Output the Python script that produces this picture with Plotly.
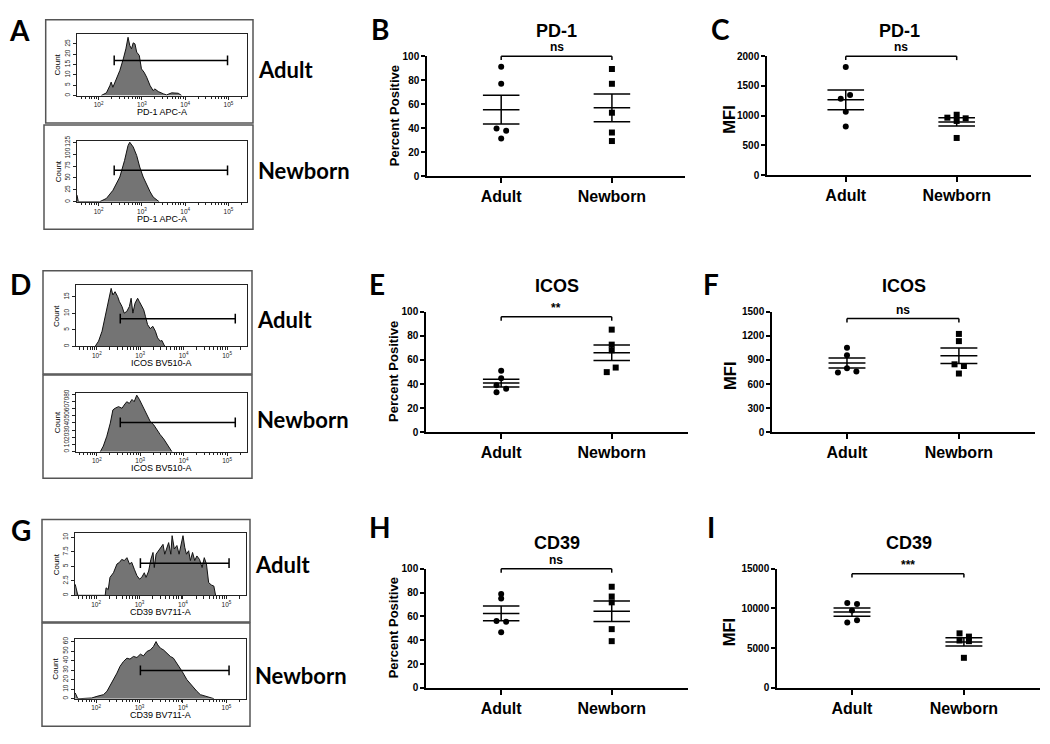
import numpy as np
import plotly.graph_objects as go

W, H = 1050, 744
ARIAL = "Liberation Sans, Arial, sans-serif"
CALIBRI = "Lato, Open Sans, sans-serif"

# ---- flow histograms: x = log10 fluorescence, y = count ----
pd1_adult_x = [2.06, 2.18, 2.26, 2.29, 2.33, 2.41, 2.49, 2.57, 2.63, 2.68, 2.72, 2.76, 2.80, 2.84, 2.88,
               2.94, 2.99, 3.05, 3.11, 3.19, 3.26, 3.30, 3.38, 3.50, 3.57, 3.69, 3.77, 3.84, 3.92]
pd1_adult_y = [0, 1.3, 4.8, 6.5, 4.0, 8.1, 12.1, 17.7, 22.6, 28.2, 24.2, 22.6, 25.5, 25.0, 21.0,
               19.4, 12.9, 11.3, 8.9, 4.8, 2.4, 3.2, 1.9, 0.8, 0.3, 1.3, 1.0, 1.1, 0]
pd1_newborn_x = [1.50, 1.53, 2.02, 2.18, 2.33, 2.49, 2.60, 2.68, 2.72, 2.80, 2.88, 2.95, 3.03, 3.11,
                 3.19, 3.26, 3.34, 3.40]
pd1_newborn_y = [14, 0, 0, 7, 24, 52, 87, 118, 125, 115, 97, 73, 52, 35, 21, 10, 3.5, 0]

icos_adult_x = [1.96, 2.04, 2.12, 2.19, 2.27, 2.33, 2.37, 2.42, 2.48, 2.52, 2.58, 2.63, 2.69, 2.75, 2.79,
                2.83, 2.88, 2.94, 2.98, 3.04, 3.08, 3.12, 3.17, 3.23, 3.29, 3.35, 3.40, 3.46, 3.50, 3.55, 3.58]
icos_adult_y = [0, 1.6, 4.6, 9.1, 13.6, 17.6, 15.6, 16.6, 15.1, 13.6, 12.1, 10.1, 10.6, 12.1, 14.6,
                10.1, 13.1, 14.6, 13.6, 12.1, 11.1, 9.1, 6.6, 5.4, 6.1, 4.6, 2.6, 1.6, 1.8, 0.4, 0]
icos_newborn_x = [2.08, 2.15, 2.23, 2.31, 2.37, 2.42, 2.50, 2.58, 2.63, 2.69, 2.75, 2.81, 2.86, 2.92,
                  2.98, 3.04, 3.09, 3.15, 3.23, 3.31, 3.38, 3.46, 3.54, 3.62, 3.69, 3.73]
icos_newborn_y = [0, 7.8, 21.5, 39.7, 58, 60.3, 62.6, 60.3, 64.8, 69.4, 67.1, 72.6, 69.4, 78.5,
                  72.6, 64.8, 58, 51.1, 42, 37.4, 30.6, 23.7, 17.8, 10, 3.2, 0]

cd39_adult_x = [1.52, 1.58, 2.21, 2.23, 2.28, 2.32, 2.40, 2.48, 2.54, 2.59, 2.65, 2.71, 2.77, 2.82, 2.88,
                2.94, 3.00, 3.05, 3.11, 3.15, 3.21, 3.26, 3.31, 3.34, 3.38, 3.44, 3.48, 3.54, 3.58, 3.63,
                3.67, 3.72, 3.75, 3.80, 3.86, 3.91, 3.95, 4.00, 4.04, 4.08, 4.13, 4.17, 4.22, 4.27, 4.32,
                4.38, 4.44, 4.49, 4.54, 4.59, 4.65, 4.71, 4.75]
cd39_adult_y = [1.9, 0, 0, 1.3, 1.0, 3.1, 3.9, 5.4, 5.7, 6.2, 6.0, 6.5, 5.4, 5.7, 4.5,
                3.4, 2.8, 3.1, 3.9, 3.1, 4.2, 6.2, 7.4, 4.8, 7.1, 7.7, 8.3, 8.8, 7.1, 8.3,
                9.1, 7.1, 10.3, 8.0, 8.6, 7.1, 8.8, 10.3, 8.3, 7.1, 7.7, 6.0, 7.4, 6.0, 6.8,
                6.2, 4.8, 6.5, 5.4, 2.2, 1.8, 1.6, 0]
cd39_newborn_x = [1.52, 1.58, 1.63, 1.90, 2.02, 2.17, 2.25, 2.36, 2.48, 2.55, 2.63, 2.71, 2.78, 2.86,
                  2.94, 3.02, 3.09, 3.17, 3.25, 3.32, 3.38, 3.42, 3.48, 3.55, 3.63, 3.71, 3.78, 3.86,
                  3.98, 4.09, 4.21, 4.32, 4.40, 4.52, 4.59, 4.71]
cd39_newborn_y = [6, 0, 0, 0.7, 2.4, 4.2, 7.7, 16.4, 26.8, 33.8, 39, 42.5, 41.5, 44.3,
                  43.2, 46.7, 44.9, 49.5, 51.2, 54.7, 59.9, 56.4, 53, 51.2, 47.7, 44.3, 42.5, 37.3,
                  28.6, 19.9, 12.9, 7.7, 4.2, 2.4, 1.4, 0]

# positive gates (x from/to, count level)
pd1_gate = [2.36, 4.98]
icos_gate = [2.54, 5.19]
cd39_gate = [3.02, 5.06]
gate_levels = [17, 66, 8.4, 40.6, 5.55, 29.6]

# ---- per-donor values ----
groups = ["Adult", "Newborn"]
pd1_pct_adult = [91.2, 77.0, 39.7, 37.8, 31.5]
pd1_pct_newborn = [89.3, 77.0, 52.9, 36.4, 29.3]
pd1_mfi_adult = [1819, 1346, 1286, 1066, 819]
pd1_mfi_newborn = [1016, 967, 956, 912, 626]
icos_pct_adult = [51.0, 44.7, 39.0, 36.0, 33.2]
icos_pct_newborn = [85.3, 72.8, 68.1, 53.7, 49.9]
icos_mfi_adult = [1054, 960, 797, 744, 756]
icos_mfi_newborn = [1226, 1136, 846, 825, 731]
cd39_pct_adult = [78.9, 75.1, 56.2, 55.6, 46.6]
cd39_pct_newborn = [84.9, 76.7, 71.8, 49.3, 39.2]
cd39_mfi_adult = [10685, 10562, 9740, 8507, 8219]
cd39_mfi_newborn = [6864, 6453, 5959, 5877, 3781]
significance = ["ns", "ns", "**", "ns", "ns", "***"]
bracket_levels = [100, 2000, 96, 1418, 100, 14384]

fig = go.Figure()
n_axes = [0]


def new_axes(area, xr, yr):
    n_axes[0] += 1
    s = "" if n_axes[0] == 1 else str(n_axes[0])
    x0, y0, x1, y1 = area
    fig.update_layout({
        "xaxis" + s: dict(domain=[x0 / W, x1 / W], anchor="y" + s, range=xr,
                          showgrid=False, zeroline=False, fixedrange=True),
        "yaxis" + s: dict(domain=[1 - y1 / H, 1 - y0 / H], anchor="x" + s, range=yr,
                          showgrid=False, zeroline=False, fixedrange=True),
    })
    return s


def text(x, y, s, size, family=ARIAL, bold=True, xanchor="center", **kw):
    fig.add_annotation(x=x / W, y=1 - y / H, xref="paper", yref="paper", text=s,
                       showarrow=False, xanchor=xanchor, yanchor="middle",
                       font=dict(family=family, size=size, color="black",
                                 weight="bold" if bold else "normal"), **kw)


minor_vals = np.log10([m * 10.0 ** k for k in range(1, 6) for m in range(2, 10)])


def histogram(box, area, xr, xs, ys, gate, level, ymax, yticks, xlabel, label, label_y):
    fig.add_shape(type="rect", xref="paper", yref="paper", x0=box[0] / W, x1=box[2] / W,
                  y0=1 - box[3] / H, y1=1 - box[1] / H, line=dict(color="#555555", width=1.5))
    s = new_axes(area, xr, [0, ymax])
    fig.add_trace(go.Scatter(x=xs, y=ys, mode="lines", fill="tozeroy", fillcolor="#747474",
                             line=dict(color="#111111", width=1), xaxis="x" + s, yaxis="y" + s,
                             showlegend=False, hoverinfo="skip"))
    fig.add_trace(go.Scatter(x=gate, y=[level, level], mode="lines+markers",
                             line=dict(color="black", width=1.5),
                             marker=dict(symbol="line-ns-open", size=7, line=dict(width=1.5, color="black")),
                             xaxis="x" + s, yaxis="y" + s, showlegend=False, hoverinfo="skip"))
    tickfont = dict(family=ARIAL, size=6.5, color="#222222")
    fig.update_layout({
        "xaxis" + s: dict(showline=True, mirror=True, linecolor="#222222", linewidth=1,
                          ticks="outside", ticklen=3, tickcolor="#222222", tickfont=tickfont,
                          tickvals=[2, 3, 4, 5],
                          ticktext=["10<sup>2</sup>", "10<sup>3</sup>", "10<sup>4</sup>", "10<sup>5</sup>"],
                          minor=dict(tickvals=list(minor_vals), ticks="outside", ticklen=2.5,
                                     tickcolor="#222222")),
        "yaxis" + s: dict(showline=True, mirror=True, linecolor="#222222", linewidth=1,
                          ticks="outside", ticklen=3, tickcolor="#222222", tickfont=tickfont,
                          tickvals=yticks, tickangle=-90),
    })
    cx = (area[0] + area[2]) / 2
    cy = (area[1] + area[3]) / 2
    text(cx, area[3] + 17, xlabel, 9, bold=False)
    text(area[0] - 19, cy, "Count", 8, bold=False, textangle=-90)
    text(box[2] + 3, label_y, label, 22, family=CALIBRI, xanchor="left")


def dot_panel(area, xr, adult, newborn, jit_a, jit_n, yticks, ytitle, ytitle_x, title, sig, level):
    ymax = yticks[-1]
    s = new_axes(area, xr, [0, ymax])
    xa, ya = "x" + s, "y" + s
    for i, (vals, jit, sym) in enumerate([(adult, jit_a, "circle"), (newborn, jit_n, "square")]):
        c = i + 1
        fig.add_trace(go.Scatter(x=[c + j for j in jit], y=vals, mode="markers",
                                 marker=dict(symbol=sym, size=6, color="black"),
                                 xaxis=xa, yaxis=ya, showlegend=False, cliponaxis=False))
        v = np.array(vals, dtype=float)
        m = v.mean()
        se = v.std(ddof=1) / np.sqrt(len(v))
        hw = 0.165
        fig.add_trace(go.Scatter(
            x=[c - hw, c + hw, None, c - hw, c + hw, None, c - hw, c + hw, None, c, c],
            y=[m, m, None, m + se, m + se, None, m - se, m - se, None, m - se, m + se],
            mode="lines", line=dict(color="black", width=1.5),
            xaxis=xa, yaxis=ya, showlegend=False, hoverinfo="skip"))
    bold = dict(family=ARIAL, color="black", weight="bold")
    fig.update_layout({
        "xaxis" + s: dict(showline=True, linecolor="black", linewidth=1.5, ticks="outside",
                          ticklen=5, tickwidth=1.5, tickcolor="black", tickvals=[1, 2],
                          ticktext=groups, tickfont=dict(size=16, **bold)),
        "yaxis" + s: dict(showline=True, linecolor="black", linewidth=1.5, ticks="outside",
                          ticklen=4, tickwidth=1.5, tickcolor="black", tickvals=yticks,
                          tickformat="d", tickfont=dict(size=10, **bold)),
    })
    # significance bracket
    yref = ("y" if s == "" else "y" + s) + " domain"
    top = level / ymax
    drop = 4 / (area[3] - area[1])
    for x0, x1, y0, y1 in [(1, 2, top, top), (1, 1, top - drop, top), (2, 2, top - drop, top)]:
        fig.add_shape(type="line", xref=xa, yref=yref, x0=x0, x1=x1, y0=y0, y1=y1,
                      line=dict(color="black", width=1.5))
    fig.add_annotation(x=1.5, y=top, xref=xa, yref=yref, text=sig, showarrow=False,
                       xanchor="center", yanchor="bottom", yshift=0, font=dict(size=12, **bold))
    cx = (area[0] + area[2]) / 2
    text(cx, area[1] - 26, title, 18)
    if len(ytitle) > 3:
        text(ytitle_x, (area[1] + area[3]) / 2, ytitle, 13, textangle=-90)
    else:
        text(ytitle_x, (area[1] + area[3]) / 2 + 4, ytitle, 16.5, textangle=-90)


# ---- left column: histograms ----
histogram((45.7, 14, 253, 119), (77, 28, 247, 91), [1.5, 5.43], pd1_adult_x, pd1_adult_y,
          pd1_gate, gate_levels[0], 30, [0, 5, 10, 15, 20, 25], "PD-1 APC-A", "Adult", 65)
histogram((44, 121, 253, 227), (77, 137, 247, 199), [1.5, 5.43], pd1_newborn_x, pd1_newborn_y,
          pd1_gate, gate_levels[1], 128, [0, 25, 50, 75, 100, 125], "PD-1 APC-A", "Newborn", 167)
histogram((43, 269, 252, 374), (76, 284, 247, 346), [1.52, 5.46], icos_adult_x, icos_adult_y,
          icos_gate, gate_levels[2], 18.5, [0, 5, 10, 15], "ICOS BV510-A", "Adult", 319)
histogram((43, 375, 252, 480), (76, 393, 247, 453), [1.52, 5.46], icos_newborn_x, icos_newborn_y,
          icos_gate, gate_levels[3], 82, [0, 10, 20, 30, 40, 50, 60, 70, 80], "ICOS BV510-A", "Newborn", 420)
histogram((42, 522, 250, 626), (75, 536, 246, 599), [1.515, 5.45], cd39_adult_x, cd39_adult_y,
          cd39_gate, gate_levels[4], 10.7, [0, 2.5, 5, 7.5, 10], "CD39 BV711-A", "Adult", 568)
histogram((42, 627, 250, 732), (75, 643, 246, 704), [1.515, 5.45], cd39_newborn_x, cd39_newborn_y,
          cd39_gate, gate_levels[5], 63, [0, 10, 20, 30, 40, 50, 60], "CD39 BV711-A", "Newborn", 680)

# ---- dot plots ----
pct_ticks = [0, 20, 40, 60, 80, 100]
dot_panel((427, 51, 685, 173), [0.33, 2.66], pd1_pct_adult, pd1_pct_newborn,
          [0, 0, -0.042, 0.045, 0], [0, 0, 0, 0, 0], pct_ticks, "Percent Positive", 394,
          "PD-1", significance[0], bracket_levels[0])
dot_panel((767, 51, 1031, 172), [0.29, 2.67], pd1_mfi_adult, pd1_mfi_newborn,
          [0, 0.039, -0.045, 0, 0], [0, -0.084, 0.081, 0, 0], [0, 500, 1000, 1500, 2000], "MFI", 729,
          "PD-1", significance[1], bracket_levels[1])
dot_panel((426, 311, 688, 433), [0.32, 2.69], icos_pct_adult, icos_pct_newborn,
          [0, 0, -0.042, 0.045, -0.042], [0, 0, 0, 0.036, -0.045], pct_ticks, "Percent Positive", 393,
          "ICOS", significance[2], bracket_levels[2])
dot_panel((772, 311, 1035, 433), [0.33, 2.68], icos_mfi_adult, icos_mfi_newborn,
          [0, 0, 0, -0.081, 0.084], [0, 0, -0.039, 0.045, 0], [0, 300, 600, 900, 1200, 1500], "MFI", 730,
          "ICOS", significance[3], bracket_levels[3])
dot_panel((426, 572, 688, 693), [0.32, 2.69], cd39_pct_adult, cd39_pct_newborn,
          [0, 0, -0.042, 0.045, 0], [0, 0, 0, 0, 0], pct_ticks, "Percent Positive", 393,
          "CD39", significance[4], bracket_levels[4])
dot_panel((777, 572, 1040, 693), [0.33, 2.68], cd39_mfi_adult, cd39_mfi_newborn,
          [-0.042, 0.045, 0, 0.045, -0.042], [-0.039, 0.045, -0.039, 0.045, 0],
          [0, 5000, 10000, 15000], "MFI", 729, "CD39", significance[5], bracket_levels[5])

# panel letters
for letter, (lx, ly) in zip("ABCDEFGHI", [(19, 24), (380, 23), (720, 23), (20, 283), (377, 283),
                                           (711, 283), (21, 533), (380, 530), (711, 530)]):
    text(lx, ly, letter, 28, family=CALIBRI)

fig.update_layout(width=W, height=H, margin=dict(l=0, r=0, t=0, b=0),
                  paper_bgcolor="white", plot_bgcolor="white", showlegend=False,
                  hovermode=False)

fig.write_html("out.html", config={"displayModeBar": False},
               post_script="document.body.style.margin = '0px';")
